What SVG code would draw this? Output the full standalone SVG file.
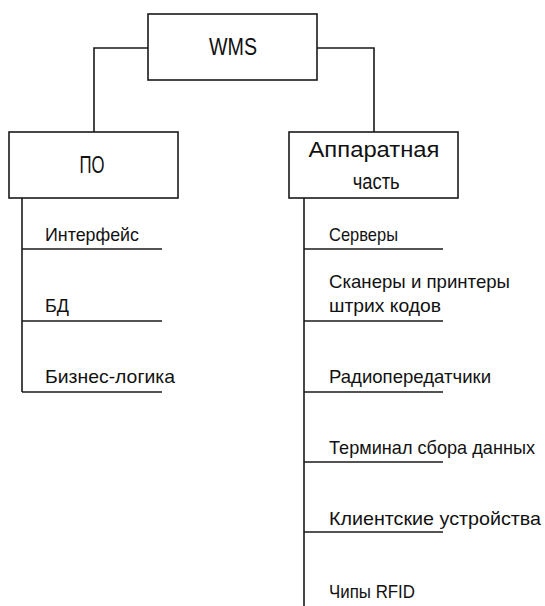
<svg xmlns="http://www.w3.org/2000/svg" width="545" height="606" viewBox="0 0 545 606">
<style>
.box{fill:#fff;stroke:#1a1a1a;stroke-width:1.6}
.ln{fill:none;stroke:#1a1a1a;stroke-width:1.6}
.t{font-family:"Liberation Sans Narrow","Liberation Sans",Arial,sans-serif;fill:#111}
.big{font-size:24px}
.mid{font-size:22.5px}
.sm{font-size:19px}
</style>
<rect width="545" height="606" fill="#fff"/>
<g id="connectors">
<polyline class="ln" points="148,48 94,48 94,132"/>
<polyline class="ln" points="317,48 374,48 374,132"/>
<line class="ln" x1="22" y1="198" x2="22" y2="392"/>
<line class="ln" x1="304" y1="198" x2="304" y2="606"/>
<line class="ln" x1="22" y1="249" x2="162" y2="249"/>
<line class="ln" x1="22" y1="321" x2="162" y2="321"/>
<line class="ln" x1="22" y1="392" x2="162" y2="392"/>
<line class="ln" x1="304" y1="249" x2="443" y2="249"/>
<line class="ln" x1="304" y1="321" x2="443" y2="321"/>
<line class="ln" x1="304" y1="392" x2="443" y2="392"/>
<line class="ln" x1="304" y1="462" x2="443" y2="462"/>
<line class="ln" x1="304" y1="532" x2="443" y2="532"/>
</g>
<g id="wms">
<rect class="box" x="148" y="14" width="169" height="66"/>
<text class="t big" x="209" y="55" textLength="48" lengthAdjust="spacingAndGlyphs">WMS</text>
</g>
<g id="po">
<rect class="box" x="9" y="132" width="169" height="66"/>
<text class="t big" x="79.5" y="173" textLength="25" lengthAdjust="spacingAndGlyphs">ПО</text>
</g>
<g id="hardware">
<rect class="box" x="289" y="132" width="169" height="66"/>
<text class="t mid" x="308.5" y="157" textLength="131" lengthAdjust="spacingAndGlyphs">Аппаратная</text>
<text class="t mid" x="352.7" y="189" textLength="47" lengthAdjust="spacingAndGlyphs">часть</text>
</g>
<g id="interface"><text class="t sm" x="45" y="240.5" textLength="94" lengthAdjust="spacingAndGlyphs">Интерфейс</text></g>
<g id="db"><text class="t sm" x="45" y="312" textLength="24" lengthAdjust="spacingAndGlyphs">БД</text></g>
<g id="logic"><text class="t sm" x="45" y="383" textLength="130" lengthAdjust="spacingAndGlyphs">Бизнес-логика</text></g>
<g id="servers"><text class="t sm" x="329" y="240.5" textLength="69" lengthAdjust="spacingAndGlyphs">Серверы</text></g>
<g id="scanners">
<text class="t sm" x="329" y="288" textLength="181" lengthAdjust="spacingAndGlyphs">Сканеры и принтеры</text>
<text class="t sm" x="329" y="311.5" textLength="112" lengthAdjust="spacingAndGlyphs">штрих кодов</text>
</g>
<g id="radio"><text class="t sm" x="329" y="382.5" textLength="162" lengthAdjust="spacingAndGlyphs">Радиопередатчики</text></g>
<g id="terminal"><text class="t sm" x="329" y="453.5" textLength="206" lengthAdjust="spacingAndGlyphs">Терминал сбора данных</text></g>
<g id="clients"><text class="t sm" x="329" y="524.5" textLength="212" lengthAdjust="spacingAndGlyphs">Клиентские устройства</text></g>
<g id="rfid"><text class="t sm" x="329" y="598" textLength="86" lengthAdjust="spacingAndGlyphs">Чипы RFID</text></g>
</svg>
